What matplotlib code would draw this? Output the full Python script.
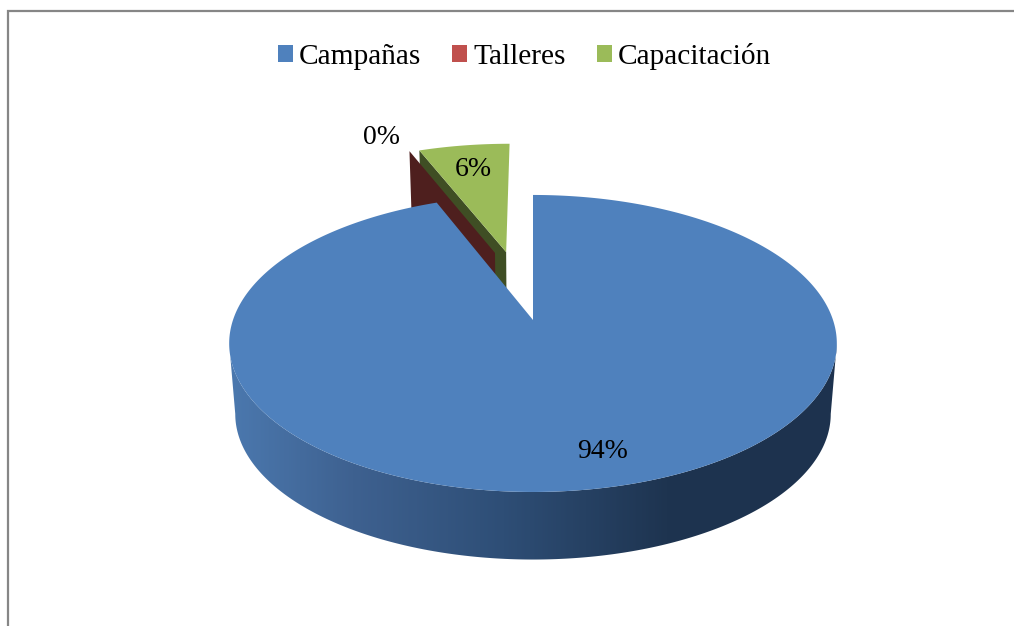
import numpy as np
import matplotlib
matplotlib.use('Agg')
import matplotlib.pyplot as plt
from matplotlib.patches import Polygon, Patch
from matplotlib.colors import LinearSegmentedColormap

categories = ['Campañas', 'Talleres', 'Capacitación']
values = [94, 0, 6]
colors = ['#4F81BD', '#C0504D', '#9BBB59']
wallColors = ['#2E4E76', '#4E1F1E', '#3F4E24']

# explosion of each slice, in pie radii: distance, and direction clockwise from 12 o'clock
explodeDist = [0, 0.518, 0.516]
explodeDir = [0, -15.3, -10.8]

# perspective of the tilted pie, in pixels
cx = 533
cyTop = 320
cyLow = 391
rx = 300
ry = 144.8
persp = 0.158
lowScale = 0.98

plt.rcParams['font.family'] = ['Liberation Serif', 'DejaVu Serif']

fig = plt.figure(figsize=(10.14, 6.26), dpi=100)
ax = fig.add_axes([0, 0, 1, 1])


def project(x, y, low=False):
    w = 1 + persp * y
    if low:
        return cx + lowScale * rx * x / w, cyLow - lowScale * ry * y / w
    return cx + rx * x / w, cyTop - ry * y / w


def rimPoints(a0, a1, ox, oy, low=False):
    # a0, a1 are degrees clockwise from 12 o'clock
    n = max(2, int(abs(a1 - a0)) * 2)
    t = np.radians(np.linspace(a0, a1, n))
    return project(ox + np.sin(t), oy + np.cos(t), low)


# slice angles come from the values
total = float(sum(values))
ends = np.cumsum(values) / total * 360
starts = np.concatenate(([0], ends[:-1]))
offs = [(d * np.sin(np.radians(a)), d * np.cos(np.radians(a))) for d, a in zip(explodeDist, explodeDir)]


def cutWall(i, angle, zorder):
    ox, oy = offs[i]
    s, c = np.sin(np.radians(angle)), np.cos(np.radians(angle))
    a = project(ox, oy)
    b = project(ox + s, oy + c)
    d = project(ox + s, oy + c, True)
    e = project(ox, oy, True)
    ax.add_patch(Polygon([a, b, d, e], closed=True, fc=wallColors[i], ec='none', zorder=zorder))


def topFace(i, zorder):
    ox, oy = offs[i]
    xs, ys = rimPoints(starts[i], ends[i], ox, oy)
    ax0, ay0 = project(ox, oy)
    pts = [(ax0, ay0)] + list(zip(xs, ys))
    ax.add_patch(Polygon(pts, closed=True, fc=colors[i], ec='none', zorder=zorder))


# back pieces first, blue goes over them
cutWall(2, starts[2], 2)
topFace(2, 3)
cutWall(1, starts[1], 4)
topFace(1, 5)

# outer wall of the big slice with its shading, between the widest points of the rim
wide = 90 + np.degrees(np.arcsin(persp))
xa, ya = rimPoints(wide, 360 - wide, 0, 0)
xb, yb = rimPoints(wide, 360 - wide, 0, 0, True)
wallPts = list(zip(xa, ya)) + list(zip(xb[::-1], yb[::-1]))
wall = Polygon(wallPts, closed=True, fc='none', ec='none', zorder=6)
ax.add_patch(wall)
shade = LinearSegmentedColormap.from_list('shade', [(0, '#1D324E'), (0.28, '#1E3450'), (0.55, '#2E4E76'),
                                                    (0.8, '#3E6190'), (1, '#4B78AE')])
im = ax.imshow(np.linspace(0, 1, 300)[None, :], cmap=shade, aspect='auto', zorder=6,
               extent=[838, 230, 570, 340], interpolation='bilinear')
im.set_clip_path(wall)

topFace(0, 7)

ax.set_xlim(0, 1014)
ax.set_ylim(626, 0)
ax.axis('off')

# chart frame runs off the right and bottom of the crop
ax.add_patch(Polygon([(8, 640), (8, 11), (1030, 11)], closed=False, fc='none', ec='#868686', lw=1.6, zorder=1))

# data labels
labelPos = [(602.5, 452), (381, 138), (473, 170)]
for v, p in zip(values, labelPos):
    ax.text(p[0], p[1], '%d%%' % round(v / total * 100), fontsize=20, ha='center', va='center', color='black', zorder=10)

handles = [Patch(fc=c, ec='none', label=n) for c, n in zip(colors, categories)]
ax.legend(handles=handles, ncol=3, loc='center', bbox_to_anchor=(524.5, 56), bbox_transform=ax.transData,
          frameon=False, fontsize=21.2, handlelength=0.51, handleheight=0.51, handletextpad=0.2,
          columnspacing=1.05, borderpad=0, borderaxespad=0)

plt.savefig('out.png', dpi=100)
